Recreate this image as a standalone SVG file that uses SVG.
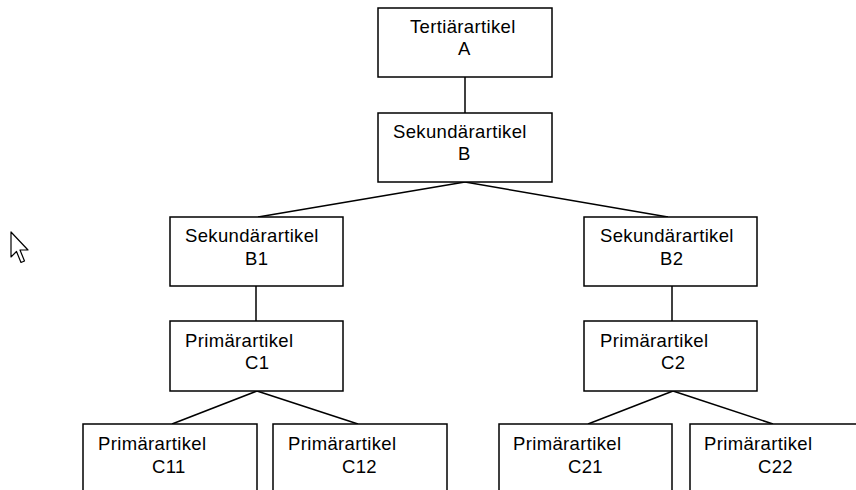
<svg xmlns="http://www.w3.org/2000/svg" width="856" height="490" viewBox="0 0 856 490">
<style>
rect.n{fill:#fff;stroke:#000;stroke-width:1.5}
text{font-family:"Liberation Sans",Arial,sans-serif;font-size:18.5px;letter-spacing:0.35px;fill:#000}
.c line{stroke:#000;stroke-width:1.5}
</style>
<rect width="856" height="490" fill="#fff"/>
<g class="c" id="connectors">
<line x1="465" y1="77" x2="465" y2="113"/>
<line x1="465" y1="182" x2="258" y2="217"/>
<line x1="465" y1="182" x2="668" y2="217"/>
<line x1="256" y1="286" x2="256" y2="321"/>
<line x1="672" y1="286" x2="672" y2="321"/>
<line x1="257" y1="391" x2="172" y2="424"/>
<line x1="257" y1="391" x2="358" y2="424"/>
<line x1="673" y1="391" x2="588" y2="424"/>
<line x1="673" y1="391" x2="773" y2="424"/>
</g>
<g id="nodeA"><rect class="n" x="378" y="8" width="174" height="69"/><text x="410" y="33">Tertiärartikel</text><text x="458" y="55">A</text></g>
<g id="nodeB"><rect class="n" x="378" y="113" width="174" height="69"/><text x="393" y="138">Sekundärartikel</text><text x="458" y="160">B</text></g>
<g id="nodeB1"><rect class="n" x="170" y="217" width="173" height="69"/><text x="185" y="242">Sekundärartikel</text><text x="245" y="265">B1</text></g>
<g id="nodeB2"><rect class="n" x="584" y="217" width="173" height="69"/><text x="600" y="242">Sekundärartikel</text><text x="660" y="265">B2</text></g>
<g id="nodeC1"><rect class="n" x="170" y="321" width="173" height="70"/><text x="185" y="347">Primärartikel</text><text x="245" y="369">C1</text></g>
<g id="nodeC2"><rect class="n" x="584" y="321" width="173" height="70"/><text x="600" y="347">Primärartikel</text><text x="661" y="369">C2</text></g>
<g id="nodeC11"><rect class="n" x="83" y="424" width="174" height="80"/><text x="98" y="450">Primärartikel</text><text x="152" y="473">C11</text></g>
<g id="nodeC12"><rect class="n" x="273" y="424" width="174" height="80"/><text x="288" y="450">Primärartikel</text><text x="342" y="473">C12</text></g>
<g id="nodeC21"><rect class="n" x="499" y="424" width="173" height="80"/><text x="513" y="450">Primärartikel</text><text x="568" y="473">C21</text></g>
<g id="nodeC22"><rect class="n" x="690" y="424" width="174" height="80"/><text x="704" y="450">Primärartikel</text><text x="758" y="473">C22</text></g>
<path d="M11 232 L11 257 L16.5 251.5 L21 262.5 L24.5 261 L20 250 L28 250 Z" fill="#fff" stroke="#000" stroke-width="1.2" stroke-linejoin="round"/>
</svg>
